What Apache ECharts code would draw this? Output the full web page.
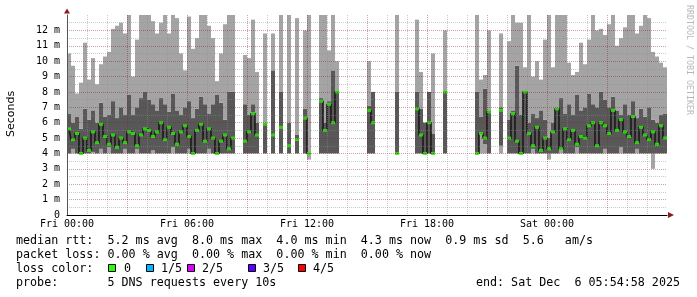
<!DOCTYPE html>
<html><head><meta charset="utf-8">
<script src="https://cdn.jsdelivr.net/npm/echarts@6/dist/echarts.min.js"></script>
<style>html,body{margin:0;padding:0;background:#fff}#c{width:697px;height:297px}</style>
</head><body><div id="c"></div>
<script>
// 150 slots of 12 minutes each, Fri 00:00 -> Sat 06:00 (values in ms)
const hiRtt = [
 10.5, 9.7, 7.9, 8.6, 11.2, 8.8, 10.2, 8.5, 9.8, 10.3,
 10.6, 12.1, 12.3, 12.5, 11.8, 13.0, 9.0, 11.4, 13.0, 13.0,
 13.0, 12.6, 11.8, 12.5, 13.0, 11.8, 13.0, 12.8, 10.5, 9.4,
 12.9, 10.8, 11.5, 13.0, 13.0, 12.3, 11.5, 8.7, 10.5, 12.4,
 13.0, 13.0, null, null, 10.4, 10.2, 12.7, 9.3, null, 11.8,
 null, 11.8, null, 13.0, null, 13.0, null, 12.8, null, 12.0,
 13.0, null, null, 13.0, 13.0, 10.7, 13.0, 10.0, null, null,
 null, null, null, null, null, 10.0, 8.0, null, null, null,
 null, null, 13.0, null, null, null, null, 12.7, 9.3, 6.0,
 8.0, 10.5, null, null, 12.0, null, null, null, null, null,
 null, null, 13.0, 8.8, 9.1, 12.0, null, null, 11.8, null,
 11.3, 13.0, 12.5, 12.5, 9.6, 13.0, 9.0, 10.0, 8.8, 11.4,
 13.0, 9.6, 13.0, 13.0, 13.0, 9.9, 9.1, 9.3, 11.2, 9.8,
 11.4, 13.0, 12.0, 12.1, 11.7, 12.4, 13.0, 11.0, 11.5, 12.2,
 13.0, 13.0, 11.8, 12.3, 13.0, 12.8, 10.6, 10.3, 9.9, 9.6
];
const upRtt = [
 6.6, 6.0, 6.4, 5.6, 6.9, 6.2, 6.8, 6.0, 7.3, 6.4,
 6.5, 7.4, 6.3, 7.0, 6.5, 7.8, 6.5, 7.0, 7.6, 8.0,
 7.5, 7.2, 6.8, 7.6, 7.2, 6.7, 7.9, 6.8, 6.5, 7.0,
 7.4, 6.3, 6.9, 7.7, 7.2, 6.6, 7.2, 7.8, 7.3, 6.2,
 8.0, 8.0, null, null, 7.2, 6.5, 7.2, 6.0, null, 6.0,
 null, 9.4, null, 8.0, null, 6.0, null, 5.2, null, 6.9,
 4.0, null, null, 7.6, 6.0, 7.4, 9.4, 8.0, null, null,
 null, null, null, null, null, 7.1, 8.0, null, null, null,
 null, null, 8.0, null, null, null, null, 8.0, 6.9, 6.0,
 8.0, 5.3, null, null, 8.0, null, null, null, null, null,
 null, null, 8.0, 6.4, 8.2, 6.8, null, null, 7.0, null,
 6.2, 6.8, 9.7, 6.5, 8.0, 6.0, 6.6, 6.3, 6.8, 6.2,
 5.0, 6.0, 7.0, 7.6, 6.6, 7.2, 6.5, 7.8, 6.8, 7.0,
 7.9, 7.2, 7.0, 8.0, 7.5, 7.0, 7.7, 6.8, 6.5, 7.2,
 6.5, 7.4, 6.3, 6.9, 6.4, 7.0, 6.2, 6.0, 6.5, 6.6
];
const dnRtt = [
 4.0, 4.3, 4.0, 4.0, 4.0, 4.0, 4.1, 4.0, 4.3, 4.0,
 4.4, 4.0, 4.0, 4.0, 4.3, 4.0, 4.0, 4.3, 4.0, 4.0,
 4.0, 4.2, 4.0, 4.0, 4.0, 4.0, 4.4, 4.0, 4.0, 4.0,
 4.3, 4.0, 4.0, 4.0, 4.0, 4.3, 4.0, 4.0, 4.0, 4.0,
 4.0, 4.0, null, null, 4.0, 4.0, 4.0, 4.0, null, 4.0,
 null, 4.0, null, 4.0, null, 4.0, null, 4.0, null, 4.0,
 4.0, null, null, 4.0, 4.0, 4.0, 4.0, 4.0, null, null,
 null, null, null, null, null, 4.0, 4.0, null, null, null,
 null, null, 4.0, null, null, null, null, 4.0, 4.0, 4.0,
 4.0, 4.0, null, null, 4.0, null, null, null, null, null,
 null, null, 4.0, 5.3, 4.6, 4.0, null, null, 4.5, null,
 4.0, 4.0, 4.0, 4.0, 4.0, 4.0, 4.3, 4.0, 4.0, 4.0,
 4.0, 4.0, 4.0, 4.3, 4.0, 4.0, 4.0, 4.4, 4.0, 4.0,
 4.0, 4.0, 4.0, 4.0, 4.3, 4.0, 4.0, 4.0, 4.4, 4.0,
 4.0, 4.0, 4.3, 4.0, 4.0, 4.0, 4.0, 4.0, 4.0, 4.0
];
const loRtt = [
 4.0, 4.0, 4.0, 4.0, 4.0, 4.0, 4.0, 4.0, 4.0, 4.0,
 4.0, 4.0, 4.0, 4.0, 4.0, 4.0, 4.0, 4.0, 4.0, 4.0,
 4.0, 4.0, 4.0, 4.0, 4.0, 4.0, 4.0, 4.0, 4.0, 4.0,
 4.0, 4.0, 4.0, 4.0, 4.0, 4.0, 4.0, 4.0, 4.0, 4.0,
 4.0, 4.0, null, null, 4.0, 4.0, 4.0, 4.0, null, 4.0,
 null, 4.0, null, 4.0, null, 4.0, null, 4.0, null, 4.0,
 3.6, null, null, 4.0, 4.0, 4.0, 4.0, 4.0, null, null,
 null, null, null, null, null, 4.0, 4.0, null, null, null,
 null, null, 4.0, null, null, null, null, 4.0, 4.0, 4.0,
 4.0, 4.0, null, null, 4.0, null, null, null, null, null,
 null, null, 4.0, 4.0, 4.0, 4.0, null, null, 4.0, null,
 4.0, 4.0, 4.0, 4.0, 4.0, 4.0, 4.0, 4.0, 4.0, 4.0,
 3.6, 4.0, 4.0, 4.0, 4.0, 4.0, 4.0, 4.0, 4.0, 4.0,
 4.0, 4.0, 4.0, 4.0, 4.0, 4.0, 4.0, 4.0, 4.0, 4.0,
 4.0, 4.0, 4.0, 4.0, 4.0, 4.0, 3.0, 4.0, 4.0, 4.0
];
const medRtt = [
 5.6, 4.9, 5.3, 4.0, 5.0, 4.2, 5.4, 4.7, 5.9, 5.1,
 4.6, 5.2, 4.4, 5.0, 4.7, 5.4, 5.3, 4.5, 5.2, 5.6,
 5.5, 5.1, 5.4, 6.0, 4.9, 5.7, 5.3, 4.6, 5.4, 5.8,
 5.1, 4.0, 5.5, 5.9, 4.8, 5.6, 5.0, 4.0, 4.8, 5.2,
 4.3, 5.0, null, null, 4.8, 5.4, 6.6, 5.2, null, 5.9,
 null, 5.2, null, 5.7, null, 4.5, null, 4.9, null, 6.3,
 4.0, null, null, 7.4, 5.5, 7.2, 6.0, 8.0, null, null,
 null, null, null, null, null, 6.8, 6.0, null, null, null,
 null, null, 4.0, null, null, null, null, 6.9, 5.2, 4.0,
 6.0, 4.0, null, null, 8.0, null, null, null, null, null,
 null, null, 4.0, 5.3, 5.0, 6.7, null, null, 6.8, null,
 5.0, 6.6, 4.8, 4.0, 8.0, 5.3, 4.5, 5.7, 4.2, 5.0,
 4.3, 5.4, 6.9, 4.3, 5.6, 4.9, 5.5, 4.6, 5.1, 5.0,
 5.8, 6.0, 4.5, 6.0, 5.8, 5.3, 6.8, 5.5, 6.2, 5.4,
 5.1, 6.4, 4.7, 5.7, 5.2, 4.9, 5.4, 4.6, 5.8, 5.0
];
const xTickLabels = {0: 'Fri 00:00', 6: 'Fri 06:00', 12: 'Fri 12:00', 18: 'Fri 18:00', 24: 'Sat 00:00'};
const lossLabels = ['0', '1/5', '2/5', '3/5', '4/5'];
const lossColors = ['#26ff00', '#00b8ff', '#dd00ff', '#5e00ff', '#ff0000'];
const statsLines = [
  'median rtt:  5.2 ms avg  8.0 ms max  4.0 ms min  4.3 ms now  0.9 ms sd  5.6   am/s',
  'packet loss: 0.00 % avg  0.00 % max  0.00 % min  0.00 % now',
  'loss color:',
  'probe:       5 DNS requests every 10s'
];
const endText = 'end: Sat Dec  6 05:54:58 2025';

const slots = hiRtt.map((_, i) => i);
const diff = (a, b) => a.map((v, i) => (v == null || b[i] == null) ? null : +(v - b[i]).toFixed(2));
const MONO = '"DejaVu Sans Mono", monospace';

const chart = echarts.init(document.getElementById('c'), null, {renderer: 'canvas'});
const gridLineMajor = 'rgba(130,30,30,0.42)';
const gridLineMinor = 'rgba(140,140,140,0.45)';

const graphics = [];
const lineY = [241, 255, 269, 283];
statsLines.forEach((t, k) => graphics.push({
  type: 'text', x: 16, y: lineY[k], silent: true,
  style: {text: t, font: '11.7px ' + MONO, fill: '#000', textVerticalAlign: 'middle'}
}));
graphics.push({type: 'text', x: 680, y: 283, silent: true,
  style: {text: endText, font: '11.7px ' + MONO, fill: '#000', textAlign: 'right', textVerticalAlign: 'middle'}});
const boxX = [108, 146, 187, 248, 298];
const labX = [124, 161, 202, 263, 313];
lossLabels.forEach((l, k) => {
  graphics.push({type: 'rect', silent: true, shape: {x: boxX[k] + 0.5, y: 264.5, width: 7, height: 7},
    style: {fill: lossColors[k], stroke: '#000', lineWidth: 1}});
  graphics.push({type: 'text', x: labX[k], y: 269, silent: true,
    style: {text: l, font: '11.7px ' + MONO, fill: '#000', textVerticalAlign: 'middle'}});
});
graphics.push({type: 'text', x: 11, y: 114, rotation: Math.PI / 2, silent: true,
  style: {text: 'Seconds', font: '11px "DejaVu Sans", sans-serif', fill: '#000', textAlign: 'center', textVerticalAlign: 'middle'}});
graphics.push({type: 'text', x: 689, y: 60, rotation: -Math.PI / 2, silent: true,
  style: {text: 'RRDTOOL / TOBI OETIKER', font: '8.3px ' + MONO, fill: '#b8b8b8', textAlign: 'center', textVerticalAlign: 'middle'}});
graphics.push({type: 'polygon', silent: true, shape: {points: [[64, 13.5], [70, 13.5], [67, 8.5]]}, style: {fill: '#8b1c1c'}, z: 20});
graphics.push({type: 'polygon', silent: true, shape: {points: [[668, 212], [668, 218], [674, 215]]}, style: {fill: '#8b1c1c'}, z: 20});

const barBase = {type: 'bar', stack: 'smoke', barWidth: '100%', barCategoryGap: '0%', xAxisIndex: 0, yAxisIndex: 0, silent: true};

chart.setOption({
  animation: false,
  backgroundColor: '#ffffff',
  grid: {left: 67, right: 30, top: 15, bottom: 82},
  xAxis: [
    {type: 'category', data: slots, boundaryGap: true, show: false, position: 'top'},
    {type: 'value', min: 0, max: 30, interval: 3, position: 'bottom', z: 5,
     axisLine: {show: true, onZero: false, lineStyle: {color: '#000', width: 1}},
     axisTick: {show: false},
     axisLabel: {formatter: v => xTickLabels[v] || '', fontFamily: '"DejaVu Sans Mono", monospace', fontSize: 10, color: '#000', margin: 4, showMinLabel: true, showMaxLabel: false},
     splitLine: {show: true, showMinLine: false, showMaxLine: false, lineStyle: {color: gridLineMajor, type: [1, 1], width: 1}},
     minorTick: {show: false, splitNumber: 3},
     minorSplitLine: {show: true, lineStyle: {color: gridLineMinor, type: [1, 1], width: 1}}
    }
  ],
  yAxis: {type: 'value', min: 0, max: 13, interval: 1, z: 5,
    axisLine: {show: true, lineStyle: {color: '#555', width: 1}},
    axisTick: {show: false},
    axisLabel: {formatter: v => v === 0 ? '0' : (v >= 13 ? '' : v + ' m'), fontFamily: '"DejaVu Sans Mono", monospace', fontSize: 10, color: '#000', margin: 7},
    splitLine: {show: true, showMinLine: false, showMaxLine: false, lineStyle: {color: gridLineMajor, type: [1, 1], width: 1}},
    minorTick: {show: false, splitNumber: 2},
    minorSplitLine: {show: true, lineStyle: {color: gridLineMinor, type: [1, 1], width: 1}}
  },
  series: [
    Object.assign({}, barBase, {name: 'base', data: loRtt, itemStyle: {color: 'rgba(0,0,0,0)'}}),
    Object.assign({}, barBase, {name: 'p1-p2', data: diff(dnRtt, loRtt), itemStyle: {color: '#a4a4a4'}}),
    Object.assign({}, barBase, {name: 'p2-p4', data: diff(upRtt, dnRtt), itemStyle: {color: '#585858'}}),
    Object.assign({}, barBase, {name: 'p4-p5', data: diff(hiRtt, upRtt), itemStyle: {color: '#a4a4a4'}}),
    {type: 'line', name: 'median', data: medRtt, step: 'middle', showSymbol: false, symbol: 'none', connectNulls: false,
     lineStyle: {color: '#1a1a1a', width: 1.6}, xAxisIndex: 0, yAxisIndex: 0, silent: true, z: 3},
    {type: 'scatter', name: 'loss 0', data: medRtt, symbol: 'rect', symbolSize: [4, 3], itemStyle: {color: '#26ff00'},
     xAxisIndex: 0, yAxisIndex: 0, silent: true, z: 4}
  ],
  graphic: graphics
});
</script></body></html>
